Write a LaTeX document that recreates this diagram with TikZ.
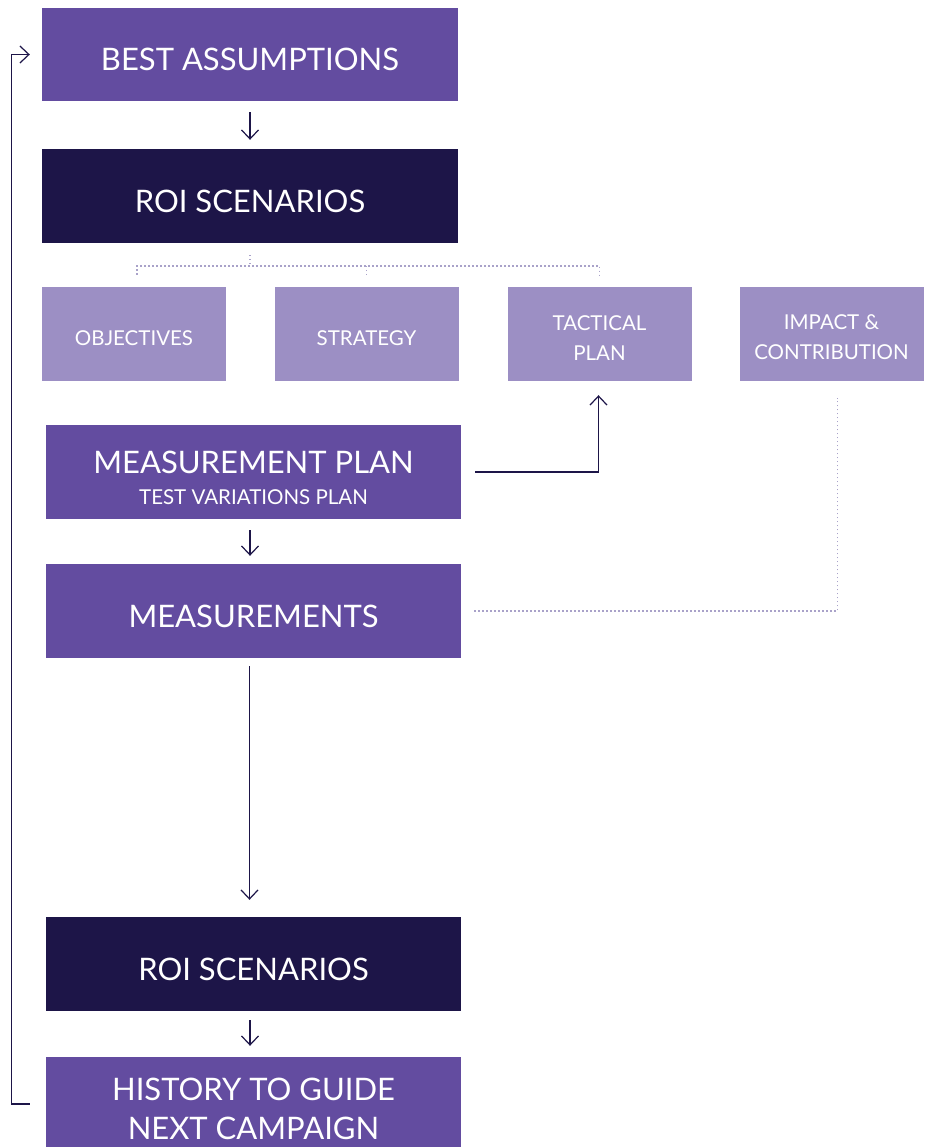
\documentclass[tikz,border=0pt]{standalone}
\usepackage{fontspec}
\setmainfont{Lato}
\usetikzlibrary{arrows.meta}
\definecolor{midpurple}{HTML}{634CA0}
\definecolor{darknavy}{HTML}{1D1548}
\definecolor{lightpurple}{HTML}{9C8FC4}
\definecolor{dotgray}{HTML}{A9A2C9}
\tikzstyle{mainbox} = [rectangle, minimum width=416pt, minimum height=94pt,
text centered, align=center, text=white, inner sep=0pt, text height=33pt,
font=\fontsize{31}{39}\selectfont, fill=midpurple]
\tikzstyle{roibox} = [mainbox, fill=darknavy]
\tikzstyle{subbox} = [rectangle, minimum width=184pt, minimum height=94pt,
text centered, align=center, text=white, inner sep=0pt, text height=23pt,
font=\fontsize{20.5}{30}\selectfont, fill=lightpurple]
\tikzstyle{arrow} = [line width=1.2pt, draw=darknavy, -{Straight Barb[length=9pt,width=17pt,line width=1.2pt]}]
\tikzstyle{dots} = [line width=1.3pt, draw=dotgray, dash pattern=on 1.3pt off 2.7pt]

\begin{document}
\begin{tikzpicture}[x=1pt,y=-1pt]
\useasboundingbox (0,0) rectangle (932,1147);

\node (best) [mainbox, minimum height=93pt] at (250,54.5) {BEST ASSUMPTIONS};
\node (roi1) [roibox] at (250,196) {ROI SCENARIOS};
\node (obj) [subbox] at (134,334) {OBJECTIVES};
\node (strat) [subbox] at (366.5,334) {STRATEGY};
\node (tact) [subbox, text height=52pt] at (599.5,334) {TACTICAL\\PLAN};
\node (impact) [subbox, text height=52pt] at (831.5,334) {IMPACT \&\\CONTRIBUTION};
\node (mplan) [mainbox, minimum width=415pt, text height=65pt, font=\fontsize{31}{31}\selectfont] at (253.5,472) {MEASUREMENT PLAN\\{\fontsize{20.5}{31}\selectfont TEST VARIATIONS PLAN}};
\node (meas) [mainbox, minimum width=415pt] at (253.5,611) {MEASUREMENTS};
\node (roi2) [roibox, minimum width=415pt] at (253.5,964) {ROI SCENARIOS};
\node (hist) [mainbox, minimum width=415pt, text height=71pt] at (253.5,1104) {HISTORY TO GUIDE\\NEXT CAMPAIGN};

\coordinate (brk) at (250,266);

\draw [arrow, shorten <=11pt, shorten >=9pt] (best) -- (roi1);
\draw [dots] ([yshift=-12pt]roi1.south) -- (brk);
\draw [dots] ([xshift=3pt,yshift=12pt]obj.north) |- (brk -| tact.north) -- ([yshift=12pt]tact.north);
\draw [dots] (brk -| strat.north) -- ([yshift=12pt]strat.north);
\draw [arrow] ([xshift=14pt]mplan.east) -| ([xshift=-1pt,yshift=-14pt]tact.south);
\draw [arrow, shorten <=11pt, shorten >=8pt] ([xshift=-3.5pt]mplan.south) -- ([xshift=-3.5pt]meas.north);
\draw [dots] ([xshift=13pt]meas.east) -| ([xshift=6pt,yshift=-17pt]impact.south);
\draw [arrow, shorten <=8pt, shorten >=17pt] ([xshift=-4pt]meas.south) -- ([xshift=-4pt]roi2.north);
\draw [arrow, shorten <=9pt, shorten >=11pt] ([xshift=-3.5pt]roi2.south) -- ([xshift=-3.5pt]hist.north);
\draw [arrow] ([xshift=-16pt]hist.west) -- ++(-18,0) |- ([xshift=-12pt]best.west);

\end{tikzpicture}
\end{document}
